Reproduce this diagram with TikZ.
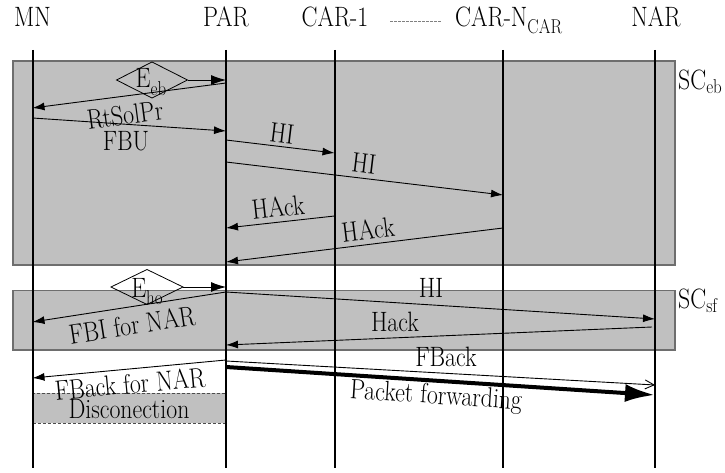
\documentclass[tikz,border=0pt]{standalone}
\usepackage{fontspec}
\usepackage{graphicx}
\usetikzlibrary{arrows.meta,shapes.geometric}
\definecolor{boxfill}{HTML}{C0C0C0}
\definecolor{boxline}{HTML}{6E6E6E}
% narrow setting of the label text
\newcommand{\T}[1]{\scalebox{0.85}[1]{#1}}
% lowered, smaller text for subscripts
\newcommand{\lsub}[2][5pt]{\raisebox{-#1}{\fontsize{20}{20}\selectfont #2}}

\begin{document}
\begin{tikzpicture}[x=1pt,y=-1pt,
  lbl/.style={font=\fontsize{28}{30}\selectfont, inner sep=0pt},
  life/.style={line width=2pt},
  msg/.style={line width=0.9pt,-{Latex[length=12pt,width=8pt]}},
  evtarrow/.style={line width=0.9pt,-{Latex[length=15pt,width=10pt]}},
  band/.style={fill=boxfill,draw=boxline,line width=1.2pt},
  evt/.style={diamond,draw,line width=0.8pt,minimum width=71pt,minimum height=36pt,inner sep=0pt,outer sep=0pt}]
\useasboundingbox (0,0) rectangle (725,473);

% shaded phases
\draw[band] (13,61) rectangle (675,265);
\draw[band] (13,290.5) rectangle (675,350);
\node[lbl,anchor=base west] (sceb) at (678,90) {\T{SC\lsub[4pt]{eb}}};
\node[lbl,anchor=base west] (scsf) at (678,308) {\T{SC\lsub[4pt]{sf}}};

% disconnection period of the mobile node
\node[fill=boxfill,draw=black!70,line width=0.8pt,dash pattern=on 3pt off 2pt,
      minimum width=193.5pt,minimum height=30pt,inner sep=0pt] (disc) at (129.25,408) {};

% entities
\node[lbl,anchor=base] (mn) at (32.5,27) {\T{MN}};
\node[lbl,anchor=base] (par) at (226,27) {\T{PAR}};
\node[lbl,anchor=base] (car1) at (335,27) {\T{CAR-1}};
\node[lbl,anchor=base west] (carn) at (455,27) {\T{CAR-N\lsub[7pt]{CAR}}};
\node[lbl,anchor=base] (nar) at (656,27) {\T{NAR}};
\coordinate (dA) at (390,22);
\coordinate (dB) at (441,22);
\draw[gray,line width=1pt,dash pattern=on 2.5pt off 1.5pt] (dA) -- (dB);

% lifelines
\foreach \n/\x in {mn/32.5,par/226,c1/334.5,cn/503,nar/655}{
  \coordinate (\n T) at (\x,50);
  \coordinate (\n B) at (\x,468);
  \draw[life] (\n T) -- (\n B);
}

\node[lbl] (disctext) at (129,409) {\T{Disconection}};

% events
\node[evt] (eeb) at (152,80) {};
\node[lbl,anchor=base] (eebt) at (151,88) {\T{E\lsub[8pt]{eb}}};
\coordinate (eebp) at (226,80);
\draw[evtarrow] (eeb.east) -- (eebp);

\node[evt,minimum width=72pt,minimum height=35pt] (eho) at (147,287) {};
\node[lbl,anchor=base] (ehot) at (147,297) {\T{E\lsub[7pt]{ho}}};
\coordinate (ehop) at (226,287);
\draw[evtarrow] (eho.east) -- (ehop);

% messages, first phase
\coordinate (m1a) at (226,83);   \coordinate (m1b) at (32.5,108);
\draw[msg] (m1a) -- (m1b);
\node[lbl,rotate=7.4] (t1) at (125,115) {\T{RtSolPr}};

\coordinate (m2a) at (32.5,118); \coordinate (m2b) at (226,131);
\draw[msg] (m2a) -- (m2b);
\node[lbl] (t2) at (126,141) {\T{FBU}};

\coordinate (m3a) at (226,140);  \coordinate (m3b) at (334.5,153);
\draw[msg] (m3a) -- (m3b);
\node[lbl,rotate=-6.9] (t3) at (282,133) {\T{HI}};

\coordinate (m4a) at (226,162);  \coordinate (m4b) at (503,195);
\draw[msg] (m4a) -- (m4b);
\node[lbl,rotate=-6.8] (t4) at (364,163) {\T{HI}};

\coordinate (m5a) at (334.5,216); \coordinate (m5b) at (226,228);
\draw[msg] (m5a) -- (m5b);
\node[lbl,rotate=6.3] (t5) at (278,207) {\T{HAck}};

\coordinate (m6a) at (503,228);  \coordinate (m6b) at (226,262);
\draw[msg] (m6a) -- (m6b);
\node[lbl,rotate=7] (t6) at (368,230) {\T{HAck}};

% messages, second phase
\coordinate (m7a) at (226,292);  \coordinate (m7b) at (32.5,322);
\draw[msg] (m7a) -- (m7b);
\node[lbl,rotate=8.8] (t7) at (132,325) {\T{FBI for NAR}};

\coordinate (m8b) at (655,319);
\draw[msg] (m7a) -- (m8b);
\node[lbl] (t8) at (431,288) {\T{HI}};

\coordinate (m9a) at (652,327);  \coordinate (m9b) at (226,345);
\draw[msg] (m9a) -- (m9b);
\node[lbl] (t9) at (395,322) {\T{Hack}};

% after the second phase
\coordinate (m10a) at (226,360); \coordinate (m10b) at (32.5,378);
\draw[msg] (m10a) -- (m10b);
\node[lbl,rotate=5.3] (t10) at (130,384) {\T{FBack for NAR}};

\coordinate (m11a) at (226,361); \coordinate (m11b) at (655,385);
\draw[line width=0.9pt,-{Straight Barb[length=9pt,width=9pt]}] (m11a) -- (m11b);
\node[lbl] (t11) at (446,357) {\T{FBack}};

\coordinate (m12a) at (226,367); \coordinate (m12b) at (655,395);
\draw[line width=4pt,-{Latex[length=30pt,width=18pt]}] (m12a) -- (m12b);
\node[lbl,rotate=-3.7] (t12) at (436,397) {\T{Packet forwarding}};
\end{tikzpicture}
\end{document}
